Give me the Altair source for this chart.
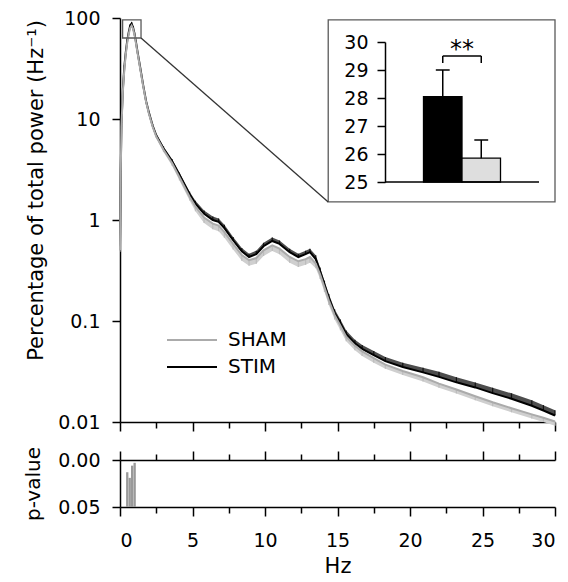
import altair as alt
import pandas as pd

FONT = "DejaVu Sans"

# ---------------- data ----------------
hz = [0.0, 0.05, 0.1, 0.2, 0.3, 0.4, 0.5, 0.6, 0.7, 0.8, 0.9, 1.0, 1.1, 1.2, 1.4, 1.6, 1.8, 2.0, 2.25, 2.5,
      3.0, 3.6, 4.1, 4.8, 5.2, 5.8, 6.4, 6.8, 7.2, 7.8,
      8.4, 8.9, 9.4, 9.9, 10.5, 11.0, 11.7, 12.3, 12.8, 13.1,
      13.5, 13.8, 14.1, 14.4, 14.8, 15.2, 15.6, 16.2, 16.7, 17.5,
      18.3, 19.5, 20.9, 22.0, 23.2, 24.5, 25.7, 27.0, 28.4, 29.2, 30.0]
stim = [0.55, 3.0, 9.0, 20, 33, 46, 60, 72, 84, 88, 81, 70, 58, 47, 32, 21.5, 15, 11.5, 8.6, 6.9,
        5.1, 3.8, 2.8, 1.8, 1.45, 1.15, 1.0, 0.96, 0.83, 0.63,
        0.49, 0.43, 0.46, 0.55, 0.62, 0.58, 0.48, 0.43, 0.46, 0.48,
        0.41, 0.31, 0.23, 0.17, 0.12, 0.095, 0.074, 0.060, 0.053, 0.046,
        0.040, 0.035, 0.031, 0.028, 0.0247, 0.022, 0.0193, 0.017, 0.0145, 0.013, 0.0116]
sham = [0.5, 2.8, 8.5, 19, 31, 44, 57, 69, 80, 84, 78, 68, 56, 46, 31, 21, 14.7, 11.2, 8.4, 6.7,
        4.95, 3.65, 2.65, 1.7, 1.36, 1.06, 0.92, 0.88, 0.76, 0.58,
        0.45, 0.40, 0.42, 0.50, 0.56, 0.52, 0.43, 0.39, 0.41, 0.43,
        0.37, 0.29, 0.215, 0.16, 0.115, 0.09, 0.07, 0.057, 0.050, 0.043,
        0.037, 0.032, 0.0277, 0.024, 0.021, 0.018, 0.0157, 0.0137, 0.0119, 0.0110, 0.0101]
# SEM as a fraction of the mean (STIM drawn upward, SHAM downward)
stim_sem = [0.03, 0.03, 0.03, 0.03, 0.03, 0.03, 0.03, 0.03, 0.03, 0.03, 0.03, 0.03, 0.03, 0.03, 0.03, 0.03, 0.03, 0.03, 0.03, 0.03,
            0.05, 0.05, 0.05, 0.06, 0.07, 0.08, 0.08, 0.08, 0.08, 0.08,
            0.08, 0.08, 0.08, 0.08, 0.08, 0.08, 0.08, 0.08, 0.08, 0.08,
            0.09, 0.09, 0.09, 0.09, 0.09, 0.09, 0.09, 0.09, 0.09, 0.10,
            0.10, 0.10, 0.11, 0.12, 0.12, 0.12, 0.13, 0.13, 0.13, 0.13, 0.13]
sham_sem = [0.03, 0.03, 0.03, 0.03, 0.03, 0.03, 0.03, 0.03, 0.03, 0.03, 0.03, 0.03, 0.03, 0.03, 0.03, 0.03, 0.03, 0.03, 0.03, 0.03,
            0.05, 0.06, 0.07, 0.08, 0.10, 0.12, 0.12, 0.12, 0.12, 0.12,
            0.12, 0.12, 0.12, 0.12, 0.12, 0.12, 0.12, 0.12, 0.12, 0.12,
            0.10, 0.10, 0.10, 0.10, 0.10, 0.10, 0.10, 0.10, 0.10, 0.10,
            0.09, 0.09, 0.09, 0.09, 0.09, 0.09, 0.09, 0.09, 0.09, 0.09, 0.09]

groups = ["SHAM", "STIM"]
line_colors = ["#ababab", "#000000"]

# zoom window (Hz, %) and inset frame (Hz, %) on the main axes
zoom_hz = [0.18, 1.45]
zoom_pct = [63.4, 96]
inset_hz = [14.36, 30]
inset_pct = [1.51, 96]

# inset: total power in the zoom window
inset_grp = ["STIM", "SHAM"]
inset_mean = [28.05, 25.85]
inset_sem = [0.95, 0.65]
inset_ticks = [25, 26, 27, 28, 29, 30]

# p-values
p_hz = [0.5, 0.67, 0.84, 1.01]
p_val = [0.013, 0.019, 0.006, 0.003]

x_ticks = [0, 2.5, 5, 7.5, 10, 12.5, 15, 17.5, 20, 22.5, 25, 27.5, 30]
y_ticks = [0.01, 0.1, 1, 10, 100]

# ---------------- frames ----------------
rows = []
for h, v, e in zip(hz, stim, stim_sem):
    rows.append(dict(hz=h, value=v, grp="STIM", lo=v, hi=v * (1 + e)))
for h, v, e in zip(hz, sham, sham_sem):
    rows.append(dict(hz=h, value=v, grp="SHAM", lo=v * (1 - e), hi=v))
df = pd.DataFrame(rows)
df_stim = df[df.grp == "STIM"]
df_sham = df[df.grp == "SHAM"]

zoom_df = pd.DataFrame([dict(x0=zoom_hz[0], x1=zoom_hz[1], y0=zoom_pct[0], y1=zoom_pct[1])])
frame_df = pd.DataFrame([dict(x0=inset_hz[0], x1=inset_hz[1], y0=inset_pct[0], y1=inset_pct[1])])
conn_df = pd.DataFrame([dict(x0=zoom_hz[1], y0=zoom_pct[0], x1=inset_hz[0], y1=inset_pct[0])])

ins_df = pd.DataFrame(dict(grp=inset_grp, mean=inset_mean, sem=inset_sem))
ins_df["pos"] = [1.5, 2.5]
ins_df["x0"] = ins_df["pos"] - 0.5
ins_df["x1"] = ins_df["pos"] + 0.5
ins_df["top"] = ins_df["mean"] + ins_df["sem"]
ins_df["c0"] = ins_df["pos"] - 0.18
ins_df["c1"] = ins_df["pos"] + 0.18

p_df = pd.DataFrame(dict(hz=p_hz, p=p_val))
p_df["x0"] = p_df["hz"] - 0.08
p_df["x1"] = p_df["hz"] + 0.08

# ---------------- scales / axes ----------------
W, H = 435, 404
xs = alt.Scale(domain=[0, 30], nice=False, zero=False)
ys = alt.Scale(type="log", domain=[0.01, 100], nice=False)
tick_cond = {"condition": {"test": "datum.value % 5 === 0", "value": 9}, "value": 6}

x_axis_main = alt.Axis(values=x_ticks, labels=False, title=None, tickSize=tick_cond, grid=False)
y_axis_main = alt.Axis(values=y_ticks, format="~g", tickSize=8, labelPadding=12, grid=False,
                       title="Percentage of total power (Hz\u207b\u00b9)", titleFontSize=21,
                       titleX=-74, titleY=172)


def mx(f):
    return alt.X(f, type="quantitative", scale=xs, axis=x_axis_main)


def my(f):
    return alt.Y(f, type="quantitative", scale=ys, axis=y_axis_main)


sham_band = alt.Chart(df_sham).mark_area(color="#cfcfcf").encode(x=mx("hz"), y=my("lo"), y2="hi")
sham_bars = alt.Chart(df_sham).mark_rule(color="#bdbdbd", strokeWidth=1.2).encode(x=mx("hz"), y=my("lo"), y2="hi")
stim_band = alt.Chart(df_stim).mark_area(color="#4d4d4d").encode(x=mx("hz"), y=my("lo"), y2="hi")
stim_bars = alt.Chart(df_stim).mark_rule(color="#111111", strokeWidth=1.2).encode(x=mx("hz"), y=my("lo"), y2="hi")

lines = alt.Chart(df).mark_line(strokeWidth=2).encode(
    x=mx("hz"), y=my("value"),
    color=alt.Color("grp:N", scale=alt.Scale(domain=groups, range=line_colors),
                    legend=alt.Legend(orient="none", legendX=62, legendY=312, title=None,
                                      symbolType="M-5,0H5", symbolSize=100, symbolStrokeWidth=2,
                                      labelFont=FONT, labelFontSize=20, labelColor="black",
                                      labelOffset=26, rowPadding=7)),
    order=alt.Order("hz:Q"),
)

zoom_box = alt.Chart(zoom_df).mark_rect(fillOpacity=0, stroke="#5a5a5a", strokeWidth=1.3).encode(
    x=mx("x0"), x2="x1", y=my("y0"), y2="y1")
frame_box = alt.Chart(frame_df).mark_rect(fill="white", stroke="#5a5a5a", strokeWidth=1.3).encode(
    x=mx("x0"), x2="x1", y=my("y0"), y2="y1")
conn = alt.Chart(conn_df).mark_rule(color="#333333", strokeWidth=1.3).encode(
    x=mx("x0"), x2="x1", y=my("y0"), y2="y1")

main = alt.layer(sham_band, sham_bars, stim_band, stim_bars, lines, zoom_box, frame_box, conn)

# inset (own scales placed inside the frame)
ixs = alt.Scale(domain=[0, 4], range=[265, 419], nice=False, zero=False)
iys = alt.Scale(domain=[25, 30], range=[164, 24], nice=False, zero=False)
inset_axis = alt.Axis(orient="left", offset=-265, values=inset_ticks, tickSize=8, labelPadding=9,
                      title=None, grid=False, labelFontSize=19, zindex=2)


def ix(f):
    return alt.X(f, type="quantitative", scale=ixs, axis=None)


def iy(f):
    return alt.Y(f, type="quantitative", scale=iys, axis=inset_axis)


ins_bars = alt.Chart(ins_df).mark_bar(stroke="black", strokeWidth=1.3).encode(
    x=ix("x0"), x2="x1", y=iy("mean"), y2=alt.datum(25),
    color=alt.Color("grp:N", scale=alt.Scale(domain=["STIM", "SHAM"], range=["#000000", "#dedede"]), legend=None),
)
ins_err = alt.Chart(ins_df).mark_rule(color="black", strokeWidth=1.5).encode(x=ix("pos"), y=iy("mean"), y2="top")
ins_cap = alt.Chart(ins_df).mark_rule(color="black", strokeWidth=1.5).encode(x=ix("c0"), x2="c1", y=iy("top"))
ins_xaxis = alt.Chart(pd.DataFrame(dict(a=[0], b=[4], v=[25]))).mark_rule(color="black", strokeWidth=1.5).encode(
    x=ix("a"), x2="b", y=iy("v"))
br_df = pd.DataFrame(dict(a=[1.5, 1.5, 2.5], b=[2.5, 1.5, 2.5], lo=[29.5, 29.25, 29.25], hi=[29.5, 29.5, 29.5]))
bracket = alt.Chart(br_df).mark_rule(color="black", strokeWidth=1.5).encode(x=ix("a"), x2="b", y=iy("lo"), y2="hi")
stars = alt.Chart(pd.DataFrame(dict(x=[2.0], y=[29.45], t=["**"]))).mark_text(
    font=FONT, fontSize=24, baseline="alphabetic", align="center", color="black").encode(
    x=ix("x"), y=iy("y"), text="t:N")

inset = alt.layer(ins_bars, ins_err, ins_cap, ins_xaxis, bracket, stars)

top = alt.layer(main, inset).resolve_scale(x="independent", y="independent", color="independent").properties(
    width=W, height=H)

# p-value panel
pxs = alt.Scale(domain=[0, 30], nice=False, zero=False)
pys = alt.Scale(domain=[0, 0.05], reverse=True, nice=False, zero=False)
p_bars = alt.Chart(p_df).mark_bar(color="#999999").encode(
    x=alt.X("x0:Q", scale=pxs, axis=alt.Axis(values=x_ticks, tickSize=tick_cond, labelPadding=15,
                                               labelExpr="datum.value % 5 === 0 ? datum.label : ''",
                                               title="Hz", titleFontSize=21, titlePadding=5, grid=False)),
    x2="x1",
    y=alt.Y("p:Q", scale=pys, axis=alt.Axis(values=[0, 0.05], format=".2f", tickSize=8, labelPadding=12,
                                             title="p-value", titleFontSize=20, titleX=-77, grid=False)),
    y2=alt.datum(0.05),
)
p_top = alt.Chart(p_df).mark_rule(opacity=0).encode(
    x=alt.X("x0:Q", scale=pxs, axis=alt.Axis(orient="top", values=x_ticks, tickSize=tick_cond, labels=False,
                                               title=None, grid=False)),
    y=alt.Y("p:Q", scale=pys),
)
bottom = alt.layer(p_bars, p_top).resolve_axis(x="independent").properties(width=W, height=47)

chart = alt.vconcat(top, bottom, spacing=38, bounds="flush").properties(
    padding={"left": 15, "top": 1, "right": 0, "bottom": 0}
).configure_view(stroke=None).configure_axis(
    labelFont=FONT, titleFont=FONT, labelFontSize=19, titleFontSize=20, titleFontWeight="normal",
    labelColor="black", titleColor="black", domainColor="black", tickColor="black",
    domainWidth=1.5, tickWidth=1.5,
)

chart.save("out.html", embed_options={"renderer": "svg", "actions": False})
